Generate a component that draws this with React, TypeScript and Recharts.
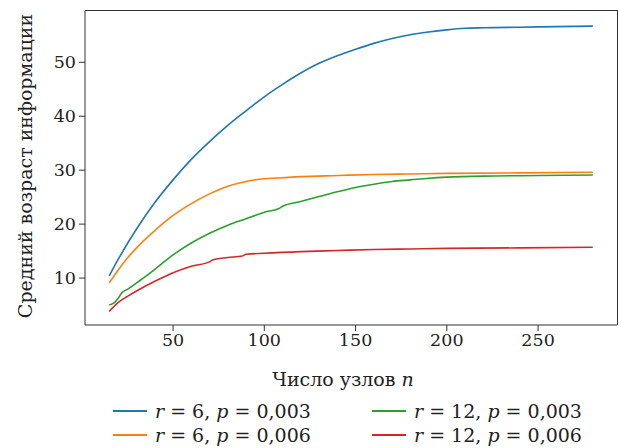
import { LineChart, Line, XAxis, YAxis } from 'recharts';

const n1 = [15, 20, 25, 30, 40, 50, 60, 70, 80, 90, 100, 110, 120, 130, 140, 150, 160, 170, 180, 190, 200, 210, 220, 240, 260, 280];
const v1 = [10.4, 13.5, 16.4, 19.1, 24.0, 28.2, 32.0, 35.3, 38.3, 41.0, 43.6, 45.9, 48.0, 49.8, 51.2, 52.4, 53.5, 54.4, 55.1, 55.6, 56.0, 56.3, 56.4, 56.5, 56.6, 56.7];

const n2 = [15, 20, 25, 30, 40, 50, 60, 70, 80, 90, 100, 110, 120, 140, 160, 180, 200, 240, 280];
const v2 = [9.1, 11.5, 13.7, 15.6, 18.8, 21.6, 23.8, 25.6, 27.0, 27.9, 28.4, 28.6, 28.8, 29.0, 29.2, 29.3, 29.4, 29.5, 29.6];

const n3 = [15, 18, 20, 22, 25, 30, 35, 40, 50, 60, 70, 80, 90, 100, 108, 110, 120, 130, 140, 150, 160, 170, 180, 190, 200, 220, 250, 280];
const v3 = [5.0, 5.5, 6.3, 7.3, 7.9, 9.1, 10.3, 11.6, 14.3, 16.5, 18.3, 19.8, 21.0, 22.2, 22.9, 23.3, 24.2, 25.1, 26.0, 26.8, 27.4, 27.9, 28.2, 28.5, 28.7, 28.9, 29.0, 29.1];

const n4 = [15, 20, 25, 30, 40, 50, 60, 70, 72, 80, 88, 90, 100, 120, 140, 160, 180, 200, 240, 280];
const v4 = [3.8, 5.5, 6.6, 7.6, 9.4, 11.0, 12.2, 13.0, 13.4, 13.8, 14.1, 14.4, 14.6, 14.9, 15.1, 15.3, 15.4, 15.5, 15.6, 15.7];

const xTicks = [50, 100, 150, 200, 250];
const yTicks = [10, 20, 30, 40, 50];

const series = [
  { key: 's1', r: 6, p: '0,003', color: '#1f77b4', n: n1, v: v1 },
  { key: 's2', r: 6, p: '0,006', color: '#ff7f0e', n: n2, v: v2 },
  { key: 's3', r: 12, p: '0,003', color: '#2ca02c', n: n3, v: v3 },
  { key: 's4', r: 12, p: '0,006', color: '#d62728', n: n4, v: v4 },
];

const xDomain = [1.75, 293.25];
const yDomain = [1.3, 59.5];

const W = 619;
const H = 448;
const margin = { top: 11, right: 2, left: 0, bottom: 0 };
const yAxisW = 85;
const xAxisH = 123;

const font = '"DejaVu Serif", serif';
const ink = '#222';
const spine = '#333';

const XLabel = (props: any) => {
  const vb = props.viewBox;
  return (
    <text x={vb.x + vb.width / 2 - 8} y={vb.y + 61} textAnchor="middle" fontFamily={font} fontSize={19} fill={ink}>
      Число узлов <tspan fontStyle="italic">n</tspan>
    </text>
  );
};

const YLabel = (props: any) => {
  const vb = props.viewBox;
  const cx = 25;
  const cy = vb.y + vb.height / 2 - 2;
  return (
    <text x={cx} y={cy} transform={`rotate(-90, ${cx}, ${cy})`} textAnchor="middle" dominantBaseline="central" fontFamily={font} fontSize={19} fill={ink}>
      Средний возраст информации
    </text>
  );
};

const legendPos = [
  { left: 113, top: 400 },
  { left: 113, top: 424 },
  { left: 372, top: 400 },
  { left: 372, top: 424 },
];

const App = () => {
  // plot box edges, for the top/right spines
  const boxLeft = margin.left + yAxisW;
  const boxTop = margin.top;
  const boxW = W - margin.right - boxLeft;
  const boxH = H - margin.bottom - xAxisH - boxTop;

  return (
    <div style={{ position: 'absolute', left: 0, top: 0, width: W, height: H, background: '#fff' }}>
      <LineChart width={W} height={H} margin={margin}>
        <XAxis
          type="number"
          dataKey="n"
          domain={xDomain}
          ticks={xTicks}
          height={xAxisH}
          tickSize={6}
          tickMargin={3}
          allowDataOverflow
          stroke={spine}
          tick={{ fontFamily: font, fontSize: 17.5, fill: ink }}
          label={<XLabel />}
        />
        <YAxis
          type="number"
          domain={yDomain}
          ticks={yTicks}
          width={yAxisW}
          tickSize={6}
          tickMargin={3}
          allowDataOverflow
          stroke={spine}
          tick={{ fontFamily: font, fontSize: 17.5, fill: ink }}
          label={<YLabel />}
        />
        {series.map((s) => (
          <Line
            key={s.key}
            data={s.n.map((n, i) => ({ n, v: s.v[i] }))}
            dataKey="v"
            type="monotone"
            stroke={s.color}
            strokeWidth={1.6}
            dot={false}
            isAnimationActive={false}
          />
        ))}
      </LineChart>
      <div
        style={{
          position: 'absolute',
          left: boxLeft,
          top: boxTop - 1,
          width: boxW + 1,
          height: boxH + 1,
          borderTop: `1.5px solid ${spine}`,
          borderRight: `1.5px solid ${spine}`,
          boxSizing: 'border-box',
          pointerEvents: 'none',
        }}
      />
      {series.map((s, i) => (
        <div
          key={s.key}
          style={{
            position: 'absolute',
            left: legendPos[i].left,
            top: legendPos[i].top,
            display: 'flex',
            alignItems: 'center',
            fontFamily: font,
            fontSize: 19,
            color: ink,
            whiteSpace: 'nowrap',
            lineHeight: '22px',
          }}
        >
          <span style={{ display: 'inline-block', width: 34, height: 2, background: s.color, marginRight: 8 }} />
          <span>
            <i>r</i> = {s.r}, <i>p</i> = {s.p}
          </span>
        </div>
      ))}
    </div>
  );
};

export default App;
